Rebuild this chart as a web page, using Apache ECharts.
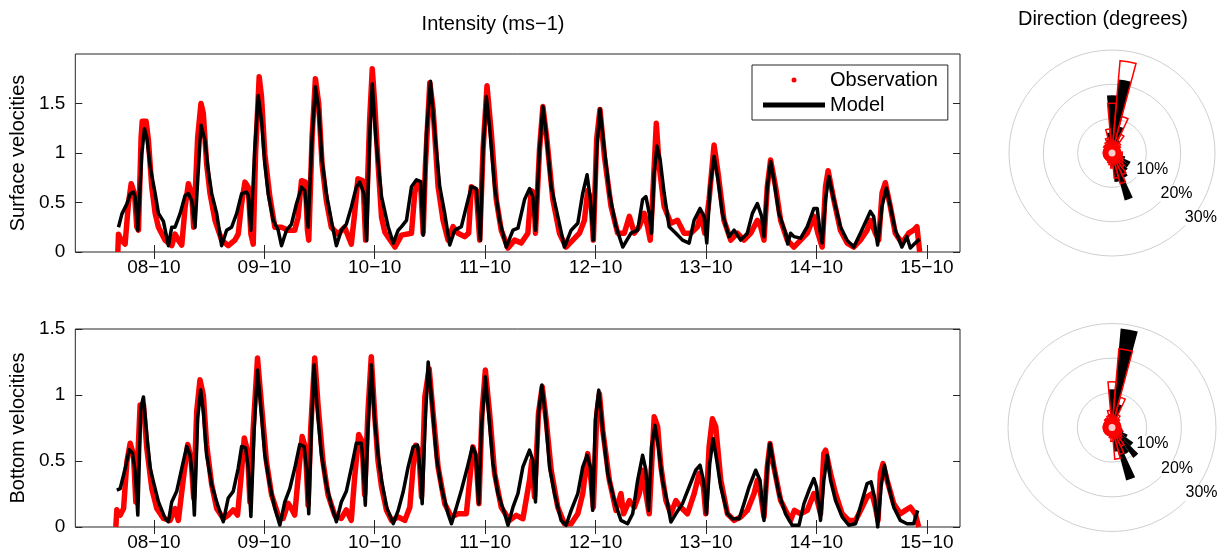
<!DOCTYPE html>
<html><head><meta charset="utf-8">
<script src="https://cdn.jsdelivr.net/npm/echarts@6/dist/echarts.min.js"></script>
<style>html,body{margin:0;padding:0;background:#fff}#c{width:1220px;height:554px}</style>
</head><body><div id="c"></div>
<script>
// ---------- DATA ----------
const dayTicks = [8, 9, 10, 11, 12, 13, 14, 15];
const surfTicks = [0, 0.5, 1, 1.5];
const botTicks = [0, 0.5, 1, 1.5];
const roseRings = [10, 20, 30];
const roseBins = [0,10,20,30,40,50,60,70,80,90,100,110,120,130,140,150,160,170,180,190,200,210,220,230,240,250,260,270,280,290,300,310,320,330,340,350];
const roseCenter = [[0, 0]];

// Surface observation (day of October, m/s)
const surfObsT = [7.674,7.680,7.705,7.74,7.77,7.795,7.825,7.846,7.861,7.885,7.895,7.93,7.951,7.981,8.012,8.042,8.102,8.162,8.192,8.222,8.253,8.283,8.313,8.343,8.361,8.397,8.427,8.448,8.478,8.509,8.554,8.614,8.674,8.734,8.764,8.795,8.825,8.855,8.879,8.9,8.921,8.954,8.975,9.005,9.05,9.096,9.156,9.216,9.276,9.306,9.337,9.373,9.391,9.403,9.433,9.463,9.493,9.523,9.562,9.607,9.668,9.728,9.788,9.818,9.848,9.894,9.918,9.954,9.978,10.0,10.03,10.062,10.092,10.183,10.243,10.333,10.363,10.387,10.417,10.439,10.459,10.499,10.529,10.574,10.619,10.664,10.709,10.755,10.815,10.851,10.875,10.92,10.951,10.981,11.017,11.056,11.101,11.146,11.207,11.267,11.327,11.387,11.417,11.441,11.456,11.492,11.523,11.559,11.613,11.673,11.733,11.794,11.854,11.899,11.929,11.959,11.98,12.01,12.04,12.08,12.14,12.2,12.26,12.306,12.351,12.396,12.441,12.471,12.495,12.516,12.55,12.576,12.621,12.682,12.742,12.802,12.862,12.923,12.953,12.989,13.028,13.073,13.109,13.163,13.224,13.284,13.344,13.405,13.465,13.495,13.525,13.555,13.585,13.63,13.676,13.736,13.796,13.857,13.917,13.977,14.013,14.052,14.082,14.106,14.157,14.217,14.278,14.338,14.398,14.459,14.489,14.534,14.564,14.594,14.624,14.669,14.714,14.775,14.835,14.88,14.91,14.935];
const surfObsV = [0.0,0.18,0.12,0.08,0.49,0.69,0.59,0.25,0.22,1.16,1.32,1.32,1.13,0.66,0.39,0.25,0.12,0.064,0.18,0.12,0.07,0.45,0.69,0.59,0.25,1.16,1.50,1.40,0.89,0.59,0.32,0.12,0.064,0.12,0.18,0.49,0.706,0.655,0.18,0.08,0.99,1.77,1.57,0.99,0.56,0.25,0.25,0.22,0.22,0.35,0.72,0.706,0.22,0.12,1.16,1.75,1.50,0.89,0.52,0.25,0.18,0.25,0.08,0.385,0.74,0.72,0.12,1.33,1.85,1.5,0.9,0.35,0.2,0.05,0.17,0.19,0.6,0.7,0.66,0.19,0.87,1.71,1.44,0.66,0.32,0.12,0.256,0.19,0.155,0.19,0.66,0.62,0.12,1.03,1.68,1.2,0.53,0.22,0.04,0.12,0.09,0.19,0.62,0.6,0.19,1.03,1.47,1.14,0.53,0.19,0.05,0.12,0.19,0.32,0.62,0.53,0.12,1.14,1.44,0.966,0.46,0.19,0.19,0.36,0.19,0.256,0.39,0.256,0.12,0.53,1.30,0.87,0.46,0.29,0.32,0.19,0.19,0.256,0.39,0.19,0.53,1.08,0.8,0.32,0.12,0.19,0.12,0.19,0.32,0.256,0.12,0.66,0.93,0.66,0.32,0.12,0.05,0.12,0.19,0.36,0.19,0.05,0.66,0.82,0.53,0.22,0.09,0.05,0.12,0.22,0.32,0.19,0.12,0.595,0.70,0.46,0.19,0.09,0.19,0.22,0.256,0.0];

// Surface model
const surfModT = [7.680,7.711,7.756,7.786,7.816,7.831,7.855,7.891,7.915,7.936,7.967,8.012,8.042,8.087,8.132,8.162,8.192,8.237,8.283,8.313,8.343,8.373,8.397,8.427,8.463,8.493,8.524,8.569,8.614,8.659,8.704,8.749,8.795,8.840,8.855,8.879,8.915,8.945,8.975,9.005,9.035,9.081,9.126,9.156,9.201,9.246,9.291,9.337,9.367,9.397,9.433,9.463,9.493,9.523,9.562,9.607,9.653,9.698,9.743,9.788,9.833,9.864,9.903,9.927,9.954,9.978,10.01,10.04,10.062,10.122,10.168,10.213,10.243,10.288,10.333,10.378,10.417,10.439,10.469,10.505,10.544,10.589,10.634,10.679,10.724,10.785,10.83,10.875,10.92,10.957,10.981,11.011,11.04,11.086,11.131,11.191,11.252,11.297,11.357,11.402,11.432,11.456,11.492,11.523,11.553,11.598,11.658,11.718,11.779,11.839,11.884,11.923,11.953,11.98,12.01,12.04,12.08,12.125,12.185,12.246,12.321,12.381,12.426,12.456,12.486,12.507,12.53,12.556,12.585,12.621,12.666,12.727,12.787,12.847,12.892,12.946,12.983,13.007,13.037,13.073,13.109,13.148,13.208,13.254,13.314,13.374,13.42,13.465,13.504,13.525,13.555,13.585,13.615,13.66,13.721,13.74,13.766,13.796,13.857,13.917,13.977,14.007,14.031,14.052,14.082,14.112,14.157,14.217,14.277,14.338,14.398,14.452,14.488,14.518,14.554,14.594,14.633,14.669,14.714,14.774,14.819,14.85,14.895,14.934];
const surfModV = [0.25,0.385,0.486,0.588,0.605,0.557,0.22,0.99,1.246,1.16,0.86,0.59,0.39,0.31,0.064,0.25,0.25,0.385,0.57,0.59,0.52,0.25,0.72,1.28,1.13,0.82,0.59,0.39,0.064,0.22,0.25,0.385,0.59,0.605,0.57,0.22,1.06,1.58,1.33,0.89,0.59,0.32,0.22,0.064,0.22,0.28,0.486,0.655,0.62,0.25,1.16,1.67,1.44,0.925,0.59,0.32,0.064,0.22,0.28,0.453,0.655,0.706,0.59,0.115,1.16,1.70,1.15,0.80,0.56,0.256,0.09,0.22,0.256,0.32,0.66,0.73,0.71,0.17,1.20,1.725,1.20,0.66,0.39,0.07,0.22,0.256,0.46,0.66,0.64,0.12,1.03,1.57,1.27,0.66,0.32,0.05,0.22,0.24,0.53,0.64,0.56,0.22,1.03,1.47,1.2,0.66,0.36,0.05,0.22,0.29,0.595,0.78,0.53,0.12,1.03,1.445,1.03,0.595,0.256,0.05,0.19,0.22,0.53,0.56,0.39,0.19,0.80,1.07,0.93,0.595,0.256,0.19,0.12,0.09,0.32,0.44,0.36,0.09,0.66,0.966,0.73,0.39,0.155,0.22,0.12,0.19,0.39,0.49,0.36,0.155,0.66,0.915,0.73,0.39,0.19,0.08,0.19,0.155,0.14,0.256,0.44,0.44,0.22,0.09,0.53,0.763,0.53,0.256,0.12,0.05,0.19,0.32,0.41,0.36,0.07,0.46,0.645,0.46,0.22,0.05,0.155,0.04,0.09,0.13];

// Bottom observation
const botObsT = [7.656,7.665,7.695,7.726,7.756,7.786,7.816,7.837,7.876,7.906,7.936,7.982,8.027,8.087,8.147,8.192,8.222,8.268,8.307,8.337,8.361,8.388,8.418,8.448,8.478,8.524,8.569,8.629,8.674,8.719,8.758,8.789,8.819,8.849,8.87,8.9,8.939,8.975,9.02,9.066,9.126,9.171,9.216,9.246,9.276,9.306,9.343,9.373,9.397,9.421,9.457,9.487,9.532,9.577,9.638,9.698,9.743,9.788,9.818,9.855,9.885,9.909,9.939,9.969,10.0,10.03,10.062,10.107,10.153,10.213,10.273,10.318,10.348,10.372,10.399,10.424,10.454,10.493,10.529,10.574,10.634,10.695,10.755,10.83,10.86,10.89,10.92,10.944,10.971,11.002,11.041,11.086,11.146,11.222,11.282,11.342,11.402,11.423,11.447,11.483,11.517,11.553,11.598,11.658,11.718,11.779,11.839,11.884,11.929,11.959,11.98,12.011,12.035,12.065,12.125,12.185,12.23,12.254,12.306,12.351,12.396,12.426,12.456,12.486,12.516,12.531,12.562,12.592,12.637,12.682,12.727,12.772,12.832,12.893,12.938,12.977,12.998,13.028,13.058,13.088,13.134,13.194,13.254,13.314,13.374,13.435,13.465,13.495,13.525,13.555,13.58,13.615,13.676,13.736,13.766,13.8,13.857,13.917,13.977,14.007,14.037,14.067,14.083,14.128,14.173,14.233,14.293,14.354,14.414,14.459,14.504,14.534,14.558,14.579,14.603,14.64,14.7,14.76,14.805,14.85,14.895,14.926];
const botObsV = [0.0,0.13,0.09,0.14,0.495,0.635,0.545,0.19,0.925,0.925,0.6,0.29,0.14,0.065,0.05,0.14,0.05,0.37,0.625,0.52,0.22,0.875,1.115,1.0,0.625,0.32,0.14,0.065,0.09,0.13,0.09,0.37,0.675,0.57,0.19,0.75,1.28,0.925,0.495,0.245,0.09,0.065,0.18,0.14,0.09,0.37,0.685,0.6,0.165,0.75,1.28,0.925,0.495,0.245,0.09,0.065,0.13,0.05,0.37,0.7,0.65,0.245,0.875,1.29,0.85,0.5,0.303,0.126,0.05,0.076,0.05,0.15,0.455,0.62,0.582,0.228,0.986,1.2,0.86,0.455,0.177,0.076,0.1,0.1,0.354,0.607,0.506,0.177,0.86,1.189,0.86,0.405,0.15,0.05,0.088,0.063,0.354,0.506,0.228,0.86,1.063,0.81,0.43,0.15,0.025,0.025,0.1,0.253,0.556,0.354,0.15,0.86,1.01,0.733,0.354,0.126,0.253,0.1,0.2,0.15,0.253,0.43,0.253,0.1,0.607,0.835,0.76,0.455,0.2,0.1,0.2,0.15,0.1,0.253,0.405,0.303,0.1,0.607,0.82,0.76,0.354,0.1,0.05,0.076,0.126,0.253,0.354,0.253,0.076,0.455,0.632,0.455,0.2,0.1,0.05,0.126,0.1,0.126,0.253,0.2,0.1,0.556,0.582,0.405,0.253,0.1,0.05,0.05,0.15,0.228,0.253,0.15,0.05,0.405,0.48,0.354,0.177,0.1,0.126,0.15,0.1,0.0];

// Bottom model
const botModT = [7.665,7.695,7.741,7.777,7.807,7.831,7.855,7.882,7.906,7.936,7.967,7.997,8.042,8.102,8.132,8.162,8.207,8.253,8.298,8.328,8.349,8.367,8.397,8.424,8.448,8.478,8.524,8.569,8.629,8.674,8.719,8.764,8.795,8.831,8.855,8.879,8.909,8.939,8.975,9.005,9.05,9.096,9.141,9.186,9.231,9.276,9.321,9.361,9.382,9.403,9.427,9.451,9.481,9.518,9.562,9.607,9.653,9.698,9.743,9.788,9.834,9.879,9.894,9.915,9.939,9.969,10.0,10.03,10.062,10.107,10.168,10.213,10.258,10.303,10.348,10.387,10.409,10.43,10.454,10.484,10.514,10.559,10.604,10.664,10.695,10.74,10.785,10.84,10.884,10.914,10.942,10.965,11.002,11.032,11.071,11.116,11.177,11.207,11.252,11.297,11.342,11.402,11.432,11.456,11.483,11.514,11.544,11.583,11.628,11.688,11.733,11.779,11.839,11.884,11.923,11.953,11.974,11.998,12.029,12.065,12.11,12.17,12.23,12.29,12.336,12.381,12.426,12.456,12.48,12.507,12.538,12.568,12.606,12.652,12.682,12.727,12.787,12.847,12.907,12.946,12.977,13.004,13.034,13.064,13.097,13.134,13.194,13.239,13.3,13.344,13.39,13.45,13.489,13.525,13.555,13.58,13.615,13.66,13.72,13.781,13.842,13.887,13.932,13.977,14.001,14.037,14.067,14.098,14.128,14.173,14.233,14.293,14.354,14.414,14.459,14.495,14.525,14.555,14.585,14.616,14.655,14.7,14.76,14.82,14.88,14.917];
const botModV = [0.28,0.29,0.445,0.585,0.56,0.42,0.09,0.90,0.985,0.70,0.445,0.34,0.19,0.065,0.04,0.19,0.27,0.445,0.61,0.545,0.395,0.09,0.825,1.04,0.875,0.545,0.32,0.19,0.04,0.22,0.27,0.445,0.61,0.6,0.445,0.08,0.75,1.19,0.85,0.545,0.32,0.14,0.015,0.19,0.29,0.445,0.625,0.61,0.445,0.10,0.75,1.23,0.875,0.545,0.32,0.165,0.04,0.19,0.27,0.445,0.635,0.635,0.495,0.165,0.75,1.23,0.8,0.55,0.354,0.15,0.025,0.126,0.267,0.455,0.607,0.62,0.455,0.177,0.733,1.25,0.986,0.531,0.30,0.1,0.025,0.15,0.278,0.455,0.607,0.556,0.177,0.733,1.138,0.86,0.481,0.253,0.1,0.013,0.15,0.253,0.455,0.582,0.506,0.19,0.86,1.075,0.86,0.455,0.253,0.05,0.013,0.126,0.253,0.455,0.543,0.455,0.126,0.81,1.037,0.733,0.405,0.2,0.05,0.025,0.1,0.354,0.543,0.43,0.126,0.607,0.77,0.607,0.354,0.177,0.038,0.1,0.177,0.303,0.43,0.468,0.354,0.1,0.481,0.67,0.506,0.303,0.1,0.063,0.063,0.177,0.303,0.43,0.354,0.05,0.455,0.632,0.455,0.253,0.1,0.013,0.013,0.177,0.278,0.367,0.303,0.05,0.354,0.543,0.354,0.2,0.076,0.013,0.025,0.2,0.329,0.342,0.228,0.0,0.303,0.468,0.303,0.15,0.05,0.025,0.025,0.126];

// Direction roses (% of time per 10-degree bin, clockwise from north)
const surfRoseObs = [14.5,27,11,6,3.5,3,2.5,2.5,2.5,3,3,3,3.5,4,5,7,9.3,7.4,4.4,3.5,3,2.5,2.5,2.5,2.5,2.5,2.5,2.5,2.5,2.5,2.5,3,3,3.5,4.5,7];
const surfRoseMod = [16.8,21.5,8,4,2.5,2,2,2,2,2.5,3,4,6,6,6.5,8,14.3,8.5,4,3,2,1.5,1.5,1.5,1.5,1.5,1.5,1.5,1.5,1.5,1.5,2,2,3,4,6];
const botRoseObs = [13.2,22.8,9,4,3,2.5,2.5,2.5,2.5,2.5,2.5,3,3,3.5,4,6,8,9.2,4,3,2.5,2.5,2.5,2.5,2.5,2.5,2.5,2.5,2.5,2.5,2.5,2.5,3,3,3.5,5];
const botRoseMod = [11,28.7,7,3,2,1.5,1.5,1.5,1.5,2,3,3.5,5,7.5,10.7,8.5,15.8,7,3,2,1.5,1.5,1.5,1.5,1.5,1.5,1.5,1.5,1.5,1.5,1.5,1.5,1.5,2,2,4];

// ---------- CHART ----------
const FONT = 'Liberation Sans, Arial, Helvetica, sans-serif';
const AX = '#262626';
const zip = (t, v) => t.map((x, i) => [x, v[i]]);
const dayLabel = v => (v < 10 ? '0' + v : '' + v) + '\u221210';
const pctLabel = v => v ? v + '%' : '';

function xAxes(gi) {
  return [
    { gridIndex: gi, type: 'value', min: 7.289, max: 15.3, position: 'bottom',
      axisLine: { show: false }, splitLine: { show: false },
      axisTick: { inside: true, length: 7, customValues: dayTicks, lineStyle: { color: AX } },
      axisLabel: { customValues: dayTicks, formatter: dayLabel, fontSize: 19, color: '#000', fontFamily: FONT, margin: 6 } },
    { gridIndex: gi, type: 'value', min: 7.289, max: 15.3, position: 'top',
      axisLine: { show: false }, splitLine: { show: false },
      axisTick: { inside: true, length: 7, customValues: dayTicks, lineStyle: { color: AX } },
      axisLabel: { show: false } }
  ];
}
function yAxes(gi, max, ticks, name) {
  return [
    { gridIndex: gi, type: 'value', min: 0, max: max, interval: 0.5, position: 'left',
      name: name, nameLocation: 'middle', nameGap: 46,
      nameTextStyle: { fontSize: 20, color: '#000', fontFamily: FONT },
      axisLine: { show: false }, splitLine: { show: false },
      axisTick: { inside: true, length: 7, customValues: ticks, lineStyle: { color: AX } },
      axisLabel: { customValues: ticks, fontSize: 19, color: '#000', fontFamily: FONT, margin: 10 } },
    { gridIndex: gi, type: 'value', min: 0, max: max, interval: 0.5, position: 'right',
      axisLine: { show: false }, splitLine: { show: false },
      axisTick: { inside: true, length: 7, customValues: ticks, lineStyle: { color: AX } },
      axisLabel: { show: false } }
  ];
}
function lineSeries(name, xi, yi, t, v, color, w, z) {
  return { name: name, type: 'line', xAxisIndex: xi, yAxisIndex: yi, data: zip(t, v),
    showSymbol: false, symbol: 'none', animation: false, z: z,
    itemStyle: { color: color }, lineStyle: { color: color, width: w, join: 'round' } };
}
function roseBars(pi, obs, mod) {
  return [
    { type: 'bar', coordinateSystem: 'polar', polarIndex: pi, data: mod, barGap: '-100%', barCategoryGap: '0%',
      itemStyle: { color: '#000' }, z: 3, animation: false, silent: true },
    { type: 'bar', coordinateSystem: 'polar', polarIndex: pi, data: obs, barGap: '-100%', barCategoryGap: '0%',
      itemStyle: { color: 'rgba(0,0,0,0)', borderColor: '#ff0000', borderWidth: 1.5 }, z: 4, animation: false, silent: true },
    { type: 'scatter', coordinateSystem: 'polar', polarIndex: pi, data: roseCenter, symbol: 'circle', symbolSize: 7,
      itemStyle: { color: '#fff' }, z: 5, animation: false, silent: true }
  ];
}
function ringRadius(pi) {
  return { polarIndex: pi, type: 'value', min: 0, max: 30, interval: 10,
    axisLine: { show: false }, axisTick: { show: false },
    splitLine: { show: true, lineStyle: { color: '#cfcfcf', width: 1 } },
    axisLabel: { formatter: pctLabel, align: 'left', verticalAlign: 'bottom', margin: 0,
      fontSize: 16, color: '#000', fontFamily: FONT, backgroundColor: '#fff' }, z: 1 };
}

const chart = echarts.init(document.getElementById('c'), null, { renderer: 'canvas' });
chart.setOption({
  backgroundColor: '#fff',
  animation: false,
  textStyle: { fontFamily: FONT },
  title: [
    { text: 'Intensity (ms\u22121)', left: 493, top: 14, textAlign: 'center', padding: 0,
      textStyle: { fontSize: 20, fontWeight: 'normal', color: '#000', fontFamily: FONT } },
    { text: 'Direction (degrees)', left: 1103, top: 9, textAlign: 'center', padding: 0,
      textStyle: { fontSize: 20, fontWeight: 'normal', color: '#000', fontFamily: FONT } }
  ],
  legend: {
    left: 752, top: 65, orient: 'vertical', selectedMode: false,
    backgroundColor: '#fff', borderColor: AX, borderWidth: 1, borderRadius: 0,
    padding: [5, 10, 5, 11], itemGap: 5, itemWidth: 62, itemHeight: 5,
    textStyle: { fontSize: 20, color: '#000', fontFamily: FONT },
    data: [{ name: 'Observation', icon: 'circle' }, { name: 'Model', icon: 'rect' }]
  },
  grid: [
    { left: 73, top: 54, width: 887, height: 198, show: true, borderColor: AX, borderWidth: 1, backgroundColor: 'transparent' },
    { left: 73, top: 329, width: 887, height: 198, show: true, borderColor: AX, borderWidth: 1, backgroundColor: 'transparent' }
  ],
  xAxis: [...xAxes(0), ...xAxes(1)],
  yAxis: [...yAxes(0, 2, surfTicks, 'Surface velocities'), ...yAxes(1, 1.5, botTicks, 'Bottom velocities')],
  polar: [
    { center: [1112, 153], radius: 103 },
    { center: [1112, 153], radius: 103 },
    { center: [1112, 427.5], radius: 104 },
    { center: [1112, 427.5], radius: 104 }
  ],
  angleAxis: [
    { polarIndex: 0, type: 'category', data: roseBins, startAngle: 95, clockwise: true, show: false },
    { polarIndex: 1, type: 'value', min: 0, max: 360, startAngle: -45, show: false },
    { polarIndex: 2, type: 'category', data: roseBins, startAngle: 95, clockwise: true, show: false },
    { polarIndex: 3, type: 'value', min: 0, max: 360, startAngle: -45, show: false }
  ],
  radiusAxis: [
    { polarIndex: 0, type: 'value', min: 0, max: 30, show: false },
    ringRadius(1),
    { polarIndex: 2, type: 'value', min: 0, max: 30, show: false },
    ringRadius(3)
  ],
  series: [
    lineSeries('Observation', 0, 0, surfObsT, surfObsV, '#ff0000', 5.5, 2),
    lineSeries('Model', 0, 0, surfModT, surfModV, '#000000', 3.5, 3),
    lineSeries('Observation', 2, 2, botObsT, botObsV, '#ff0000', 5.5, 2),
    lineSeries('Model', 2, 2, botModT, botModV, '#000000', 3.5, 3),
    ...roseBars(0, surfRoseObs, surfRoseMod),
    ...roseBars(2, botRoseObs, botRoseMod)
  ]
});
</script></body></html>
